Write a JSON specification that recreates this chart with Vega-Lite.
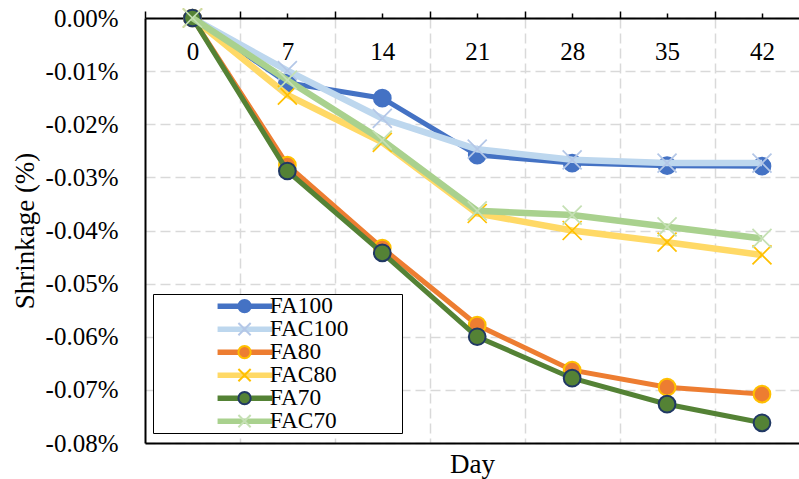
{
  "$schema": "https://vega.github.io/schema/vega-lite/v6.json",
  "width": 654,
  "height": 425,
  "autosize": "none",
  "padding": {"left": 145, "top": 18, "right": 0, "bottom": 36},
  "background": "white",
  "config": {"view": {"stroke": null}, "font": "Liberation Serif",
    "axis": {"labelFont": "Liberation Serif", "titleFont": "Liberation Serif"},
    "legend": {"labelFont": "Liberation Serif", "titleFont": "Liberation Serif"}},
  "data": {"values": [
    {"series": "FA100", "day": 0, "value": 0}, {"series": "FA100", "day": 7, "value": -0.0122}, {"series": "FA100", "day": 14, "value": -0.0151}, {"series": "FA100", "day": 21, "value": -0.0258}, {"series": "FA100", "day": 28, "value": -0.0273}, {"series": "FA100", "day": 35, "value": -0.0278}, {"series": "FA100", "day": 42, "value": -0.0279},
    {"series": "FAC100", "day": 0, "value": 0}, {"series": "FAC100", "day": 7, "value": -0.0099}, {"series": "FAC100", "day": 14, "value": -0.0189}, {"series": "FAC100", "day": 21, "value": -0.0247}, {"series": "FAC100", "day": 28, "value": -0.0267}, {"series": "FAC100", "day": 35, "value": -0.0273}, {"series": "FAC100", "day": 42, "value": -0.0273},
    {"series": "FA80", "day": 0, "value": 0}, {"series": "FA80", "day": 7, "value": -0.0277}, {"series": "FA80", "day": 14, "value": -0.0433}, {"series": "FA80", "day": 21, "value": -0.0578}, {"series": "FA80", "day": 28, "value": -0.0663}, {"series": "FA80", "day": 35, "value": -0.0695}, {"series": "FA80", "day": 42, "value": -0.0708},
    {"series": "FAC80", "day": 0, "value": 0}, {"series": "FAC80", "day": 7, "value": -0.0145}, {"series": "FAC80", "day": 14, "value": -0.0234}, {"series": "FAC80", "day": 21, "value": -0.0368}, {"series": "FAC80", "day": 28, "value": -0.0400}, {"series": "FAC80", "day": 35, "value": -0.0422}, {"series": "FAC80", "day": 42, "value": -0.0446},
    {"series": "FA70", "day": 0, "value": 0}, {"series": "FA70", "day": 7, "value": -0.0288}, {"series": "FA70", "day": 14, "value": -0.0442}, {"series": "FA70", "day": 21, "value": -0.0600}, {"series": "FA70", "day": 28, "value": -0.0678}, {"series": "FA70", "day": 35, "value": -0.0727}, {"series": "FA70", "day": 42, "value": -0.0762},
    {"series": "FAC70", "day": 0, "value": 0}, {"series": "FAC70", "day": 7, "value": -0.0117}, {"series": "FAC70", "day": 14, "value": -0.0230}, {"series": "FAC70", "day": 21, "value": -0.0363}, {"series": "FAC70", "day": 28, "value": -0.0371}, {"series": "FAC70", "day": 35, "value": -0.0393}, {"series": "FAC70", "day": 42, "value": -0.0415}
  ]},
  "resolve": {"axis": {"x": "independent"}},
  "encoding": {
    "x": {"field": "day", "type": "quantitative", "scale": {"domain": [-3.5, 44.73], "nice": false, "zero": false}, "axis": null},
    "y": {"field": "value", "type": "quantitative", "scale": {"domain": [-0.08, 0], "nice": false, "zero": false},
      "axis": {"orient": "left", "values": [-0.08, -0.07, -0.06, -0.05, -0.04, -0.03, -0.02, -0.01, 0], "domain": true, "domainColor": "black", "domainWidth": 2, "ticks": false, "labelFontSize": 25, "labelFont": "Liberation Serif", "labelColor": "black", "labelPadding": 27, "labelFlush": false, "labelOverlap": false, "labelExpr": "(datum.value < 0 ? '-' : '') + format(abs(datum.value), '.2f') + '%'", "grid": true, "gridColor": "#d9d9d9", "gridWidth": 1.5, "gridDash": [10, 5], "title": "Shrinkage (%)", "titleFontSize": 27, "titleFont": "Liberation Serif", "titleFontWeight": "normal", "titleColor": "black", "titlePadding": 6}}
  },
  "layer": [
    {
      "transform": [{"filter": "datum.series === 'FA100'"}],
      "mark": {"type": "line", "strokeWidth": 5},
      "encoding": {
        "x": {"field": "day", "type": "quantitative", "scale": {"domain": [-3.5, 44.73], "nice": false, "zero": false},
          "axis": {"orient": "top", "values": [0, 7, 14, 21, 28, 35, 42], "domain": true, "domainColor": "black", "domainWidth": 2, "ticks": true, "tickColor": "black", "tickWidth": 1.5, "tickSize": 5, "labels": true, "labelFontSize": 25, "labelFont": "Liberation Serif", "labelColor": "black", "labelPadding": -46, "labelBaseline": "alphabetic", "labelFlush": false, "labelOverlap": false, "labelBound": false, "grid": false, "title": null, "format": "d"}},
        "color": {"field": "series", "type": "nominal", "scale": {"domain": ["FA100", "FAC100", "FA80", "FAC80", "FA70", "FAC70"], "range": ["#4472c4", "#bdd7ee", "#ed7d31", "#ffd966", "#548235", "#a9d18e"]},
          "legend": {"title": null, "orient": "none", "legendX": 8, "legendY": 276, "zindex": 0, "strokeColor": "black", "fillColor": "white", "padding": 0.5, "rowPadding": -1, "symbolType": "M-5.1,0H5", "symbolSize": 117, "symbolStrokeWidth": 5.5, "symbolOffset": 80, "labelOffset": 13, "labelFontSize": 23.3, "labelFont": "Liberation Serif", "labelColor": "black", "labelExpr": "datum.label + '\u00a0\u00a0\u00a0\u00a0\u00a0\u00a0\u00a0\u00a0\u00a0\u200b'",
            "encoding": {"legend": {"update": {"strokeWidth": {"value": 2}}}}}}
      }
    },
    {
      "transform": [{"filter": "datum.series === 'FA100'"}],
      "mark": {"type": "point", "filled": true, "opacity": 1, "size": 280, "strokeWidth": 2},
      "encoding": {
        "x": {"field": "day", "type": "quantitative", "scale": {"domain": [-3.5, 44.73], "nice": false, "zero": false},
          "axis": {"orient": "bottom", "values": [3.5, 10.5, 17.5, 24.5, 31.5, 38.5], "domain": true, "domainColor": "black", "domainWidth": 2, "ticks": false, "labels": false, "grid": true, "gridColor": "#d9d9d9", "gridWidth": 1.5, "gridDash": [10, 5], "title": "Day", "titleFontSize": 27, "titleFont": "Liberation Serif", "titleFontWeight": "normal", "titleColor": "black", "titlePadding": 8}},
        "fill": {"field": "series", "type": "nominal", "scale": {"domain": ["FAC70", "FA70", "FAC80", "FA80", "FAC100", "FA100"], "range": ["transparent", "#548235", "transparent", "#ed7d31", "transparent", "#4472c4"]},
          "legend": {"title": null, "values": ["FA100", "FAC100", "FA80", "FAC80", "FA70", "FAC70"], "orient": "none", "legendX": 8, "legendY": 276, "zindex": 1, "padding": 0.5, "rowPadding": -1, "symbolSize": 150, "symbolStrokeWidth": 2, "symbolOffset": 79.4, "labelFontSize": 23.3, "labelFont": "Liberation Serif", "labelExpr": "''"}},
        "stroke": {"field": "series", "type": "nominal", "scale": {"domain": ["FAC70", "FA70", "FAC80", "FA80", "FAC100", "FA100"], "range": ["#c5e0b4", "#203864", "#ffc000", "#ffc000", "#b4c7e7", "#4472c4"]},
          "legend": {"title": null, "values": ["FA100", "FAC100", "FA80", "FAC80", "FA70", "FAC70"], "orient": "none", "legendX": 8, "legendY": 276, "zindex": 1, "padding": 0.5, "rowPadding": -1, "symbolSize": 150, "symbolStrokeWidth": 2, "symbolOffset": 79.4, "labelFontSize": 23.3, "labelFont": "Liberation Serif", "labelExpr": "''"}},
        "shape": {"field": "series", "type": "nominal", "scale": {"domain": ["FAC70", "FA70", "FAC80", "FA80", "FAC100", "FA100"], "range": ["M-1,-1L1,1M1,-1L-1,1", "circle", "M-1,-1L1,1M1,-1L-1,1", "circle", "M-1,-1L1,1M1,-1L-1,1", "circle"]},
          "legend": {"title": null, "values": ["FA100", "FAC100", "FA80", "FAC80", "FA70", "FAC70"], "orient": "none", "legendX": 8, "legendY": 276, "zindex": 1, "padding": 0.5, "rowPadding": -1, "symbolSize": 150, "symbolStrokeWidth": 2, "symbolOffset": 79.4, "labelFontSize": 23.3, "labelFont": "Liberation Serif", "labelExpr": "''"}}
      }
    },
    {
      "transform": [{"filter": "datum.series === 'FAC100'"}],
      "mark": {"type": "line", "strokeWidth": 6.5},
      "encoding": {
        "x": {"field": "day", "type": "quantitative", "scale": {"domain": [-3.5, 44.73], "nice": false, "zero": false},
          "axis": {"orient": "top", "values": [-3.5, 3.5, 10.5, 17.5, 24.5, 31.5, 38.5], "domain": false, "ticks": true, "tickColor": "black", "tickWidth": 1.5, "tickSize": 7, "labels": false, "grid": false, "title": null}},
        "color": {"field": "series", "type": "nominal"}
      }
    },
    {
      "transform": [{"filter": "datum.series === 'FAC100'"}],
      "mark": {"type": "point", "filled": true, "opacity": 1, "size": 361, "strokeWidth": 1.75},
      "encoding": {
        "fill": {"field": "series", "type": "nominal"},
        "stroke": {"field": "series", "type": "nominal"},
        "shape": {"field": "series", "type": "nominal"}
      }
    },
    {
      "transform": [{"filter": "datum.series === 'FA80'"}],
      "mark": {"type": "line", "strokeWidth": 5},
      "encoding": {"color": {"field": "series", "type": "nominal"}}
    },
    {
      "transform": [{"filter": "datum.series === 'FA80'"}],
      "mark": {"type": "point", "filled": true, "opacity": 1, "size": 280, "strokeWidth": 2},
      "encoding": {
        "fill": {"field": "series", "type": "nominal"},
        "stroke": {"field": "series", "type": "nominal"},
        "shape": {"field": "series", "type": "nominal"}
      }
    },
    {
      "transform": [{"filter": "datum.series === 'FAC80'"}],
      "mark": {"type": "line", "strokeWidth": 6.5},
      "encoding": {"color": {"field": "series", "type": "nominal"}}
    },
    {
      "transform": [{"filter": "datum.series === 'FAC80'"}],
      "mark": {"type": "point", "filled": true, "opacity": 1, "size": 361, "strokeWidth": 1.75},
      "encoding": {
        "fill": {"field": "series", "type": "nominal"},
        "stroke": {"field": "series", "type": "nominal"},
        "shape": {"field": "series", "type": "nominal"}
      }
    },
    {
      "transform": [{"filter": "datum.series === 'FA70'"}],
      "mark": {"type": "line", "strokeWidth": 5},
      "encoding": {"color": {"field": "series", "type": "nominal"}}
    },
    {
      "transform": [{"filter": "datum.series === 'FA70'"}],
      "mark": {"type": "point", "filled": true, "opacity": 1, "size": 280, "strokeWidth": 2},
      "encoding": {
        "fill": {"field": "series", "type": "nominal"},
        "stroke": {"field": "series", "type": "nominal"},
        "shape": {"field": "series", "type": "nominal"}
      }
    },
    {
      "transform": [{"filter": "datum.series === 'FAC70'"}],
      "mark": {"type": "line", "strokeWidth": 6.5},
      "encoding": {"color": {"field": "series", "type": "nominal"}}
    },
    {
      "transform": [{"filter": "datum.series === 'FAC70'"}],
      "mark": {"type": "point", "filled": true, "opacity": 1, "size": 361, "strokeWidth": 1.75},
      "encoding": {
        "fill": {"field": "series", "type": "nominal"},
        "stroke": {"field": "series", "type": "nominal"},
        "shape": {"field": "series", "type": "nominal"}
      }
    }
  ]
}
